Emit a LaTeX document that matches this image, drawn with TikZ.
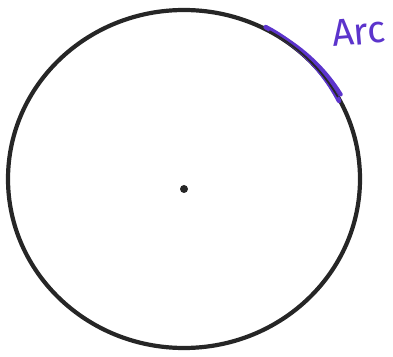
\documentclass[tikz,border=0pt]{standalone}
\usepackage{fontspec}
\setsansfont{Fira Sans}
\definecolor{pen}{RGB}{92,52,204}
\newcommand{\rx}{176}
\newcommand{\ry}{169}

\begin{document}
\begin{tikzpicture}[x=1pt,y=1pt]
\clip (0,0) rectangle (393,356);
\useasboundingbox (0,0) rectangle (393,356);
\coordinate (o) at (184,177);
\draw[line width=4.2, black!85] (o) ellipse[x radius=\rx, y radius=\ry];
\fill[black!85] (184,167) circle (4);
\draw[pen, line width=4.6, line cap=round] ([shift={(62:\rx-2 and \ry+3)}]o) arc[start angle=62, end angle=27, x radius=\rx-2, y radius=\ry+3];
\draw[pen, line width=4, line cap=round] ([shift={(59:\rx+5 and \ry)}]o) arc[start angle=59, end angle=30, x radius=\rx+5, y radius=\ry];
\draw[black!85, line width=1.8] ([shift={(61:{\rx} and {\ry})}]o) arc[start angle=61, end angle=29, x radius=\rx, y radius=\ry];
\node[pen, font=\sffamily\fontsize{38}{38}\selectfont, anchor=base west, rotate=5, inner sep=0pt] (arclabel) at (333,309) {Arc};
\end{tikzpicture}
\end{document}
